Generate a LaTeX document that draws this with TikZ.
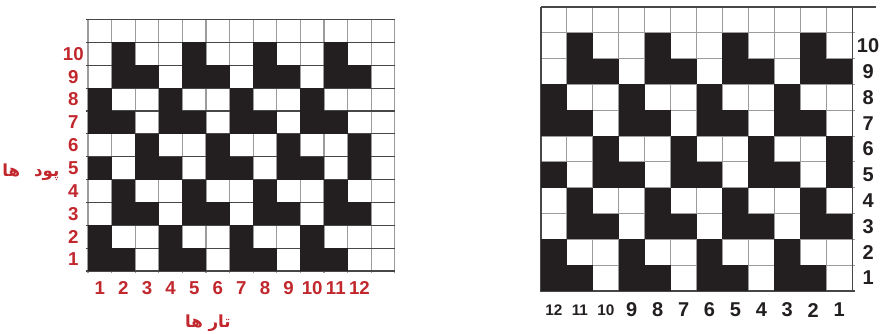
\documentclass[tikz,border=0pt]{standalone}
\usepackage{fontspec}
\setmainfont{Liberation Sans}
\newfontfamily\arabicfont[Script=Arabic]{DejaVu Sans}
\TeXXeTstate=1
\definecolor{cellblk}{HTML}{231F20}
\definecolor{lblred}{HTML}{C1272D}
\definecolor{gridgry}{HTML}{9C9C9C}
\tikzset{
  blk/.style={fill=cellblk},
  vln/.style={draw=gridgry,line width=.8pt},
  hln/.style={draw=black!72,line width=.8pt},
  rnum/.style={font=\fontsize{14}{14}\selectfont\bfseries,text=lblred,inner sep=0pt},
  knum/.style={font=\fontsize{15}{15}\selectfont\bfseries,text=cellblk,inner sep=0pt},
  ksml/.style={font=\fontsize{11.5}{11.5}\selectfont\bfseries,text=cellblk,inner sep=0pt},
  albl/.style={font=\arabicfont\fontsize{12.5}{12.5}\selectfont\bfseries,text=lblred,inner sep=0pt},
}
% black cells of the weave, row by row (bottom row first)
\newcommand{\weavecells}{%
  \foreach \r/\cs in {1/{1,2,4,5,7,8,10,11},2/{1,4,7,10},3/{2,3,5,6,8,9,11,12},
      4/{2,5,8,11},5/{1,3,4,6,7,9,10,12},6/{3,6,9,12},7/{1,2,4,5,7,8,10,11},
      8/{1,4,7,10},9/{2,3,5,6,8,9,11,12},10/{2,5,8,11}}
    \foreach \c in \cs \fill[blk] (\c-1,\r-1) rectangle ++(1,1);}

\begin{document}
\begin{tikzpicture}
  \useasboundingbox (0,0) rectangle (662.25pt,250.5pt);
  % left draft, red numbering
  \begin{scope}[shift={(66pt,47.25pt)},x=17.7pt,y=17.145pt]
    \foreach \i in {0,...,13} \draw[vln] (\i,-0.1) -- (\i,11);
    \foreach \j in {0,...,11} \draw[hln] (-0.1,\j) -- (13,\j);
    \weavecells
    \foreach \r in {1,...,10} \node[rnum] (lw\r) at (-0.62,\r-0.5) {\r};
    \foreach \c in {1,...,12} \node[rnum] (lt\c) at (\c-0.5,-0.75) {\c};
    \node[albl] (lweft) at (-2.42,4.3) {\beginR پود\hspace{6pt} ها\endR};
    \node[albl] (lwarp) at (5.08,-2.27) {\beginR تار ها\endR};
  \end{scope}
  % right draft, warps numbered from the right
  \begin{scope}[shift={(405.75pt,32.25pt)},x=19.44pt,y=19.365pt]
    \foreach \i in {1,...,11} \draw[vln] (\i,0) -- (\i,11);
    \foreach \j in {1,...,10} \draw[vln] (0,\j) -- (12.12,\j);
    \draw[hln] (0,11) -- (12.92,11);
    \draw[hln] (0,11) -- (0,0) -- (12.12,0);
    \draw[hln] (12,0) -- (12,11.05);
    \weavecells
    \foreach \r in {1,...,10} \node[knum] (rw\r) at (12.62,\r-0.5) {\r};
    \foreach \i in {1,...,12}{
      \pgfmathtruncatemacro{\n}{13-\i}
      \ifnum\n>9 \node[ksml] (rt\n) at (\i-0.5,-0.74) {\n};
      \else \node[knum] (rt\n) at (\i-0.5,-0.74) {\n};\fi}
  \end{scope}
\end{tikzpicture}
\end{document}
